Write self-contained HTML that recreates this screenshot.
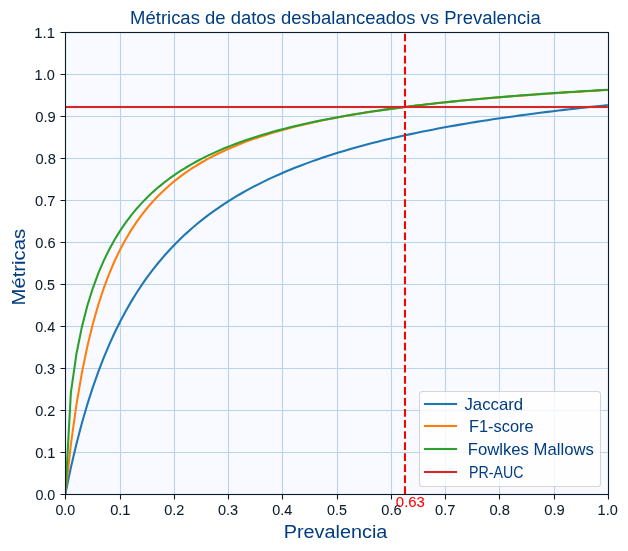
<!DOCTYPE html><html><head><meta charset="utf-8"><title>Métricas de datos desbalanceados vs Prevalencia</title><style>html,body{margin:0;padding:0;background:#fff;width:628px;height:551px;overflow:hidden}svg{display:block;will-change:transform}text{font-family:"Liberation Sans",sans-serif}</style></head><body>
<svg width="628" height="551" viewBox="0 0 628 551">
<defs><clipPath id="ax"><rect x="65.4028" y="32.3333" width="542.5000" height="462.0000"/></clipPath></defs>
<rect x="0" y="0" width="628" height="551" fill="#ffffff"/>
<rect x="65.4028" y="32.3333" width="542.5000" height="462.0000" fill="#f8faff"/>
<path d="M65.500 32.333V494.333M120.500 32.333V494.333M174.500 32.333V494.333M228.500 32.333V494.333M282.500 32.333V494.333M337.500 32.333V494.333M391.500 32.333V494.333M445.500 32.333V494.333M499.500 32.333V494.333M554.500 32.333V494.333M608.500 32.333V494.333M65.403 32.500H607.903M65.403 74.500H607.903M65.403 116.500H607.903M65.403 158.500H607.903M65.403 200.500H607.903M65.403 242.500H607.903M65.403 284.500H607.903M65.403 326.500H607.903M65.403 368.500H607.903M65.403 410.500H607.903M65.403 452.500H607.903M65.403 494.500H607.903" stroke="#b8d3f0" stroke-width="1.111" fill="none" clip-path="url(#ax)"/>
<g clip-path="url(#ax)" fill="none" stroke-width="2.0833" stroke-linejoin="round">
<polyline points="65.40,493.72 70.88,467.52 76.36,444.18 81.84,423.27 87.32,404.42 92.80,387.34 98.28,371.80 103.76,357.59 109.24,344.56 114.72,332.55 120.20,321.46 125.68,311.19 131.16,301.64 136.64,292.74 142.12,284.43 147.60,276.66 153.08,269.36 158.56,262.50 164.04,256.05 169.52,249.96 175.00,244.20 180.48,238.76 185.96,233.60 191.44,228.70 196.92,224.04 202.40,219.61 207.88,215.39 213.36,211.37 218.84,207.53 224.32,203.85 229.80,200.34 235.28,196.97 240.76,193.75 246.24,190.65 251.72,187.68 257.20,184.82 262.68,182.08 268.16,179.43 273.64,176.89 279.11,174.43 284.59,172.07 290.07,169.78 295.55,167.58 301.03,165.45 306.51,163.38 311.99,161.39 317.47,159.46 322.95,157.59 328.43,155.78 333.91,154.03 339.39,152.33 344.87,150.68 350.35,149.07 355.83,147.52 361.31,146.00 366.79,144.53 372.27,143.11 377.75,141.72 383.23,140.36 388.71,139.05 394.19,137.76 399.67,136.52 405.15,135.30 410.63,134.11 416.11,132.96 421.59,131.83 427.07,130.73 432.55,129.65 438.03,128.60 443.51,127.58 448.99,126.58 454.47,125.60 459.95,124.64 465.43,123.71 470.91,122.80 476.39,121.90 481.87,121.03 487.35,120.17 492.83,119.34 498.31,118.52 503.79,117.72 509.27,116.93 514.75,116.16 520.23,115.40 525.71,114.67 531.19,113.94 536.67,113.23 542.15,112.53 547.63,111.85 553.10,111.18 558.58,110.52 564.06,109.88 569.54,109.24 575.02,108.62 580.50,108.01 585.98,107.41 591.46,106.82 596.94,106.24 602.42,105.67 607.90,105.11" stroke="#1f77b4"/>
<polyline points="65.40,493.72 70.88,444.39 76.36,405.10 81.84,373.06 87.32,346.43 92.80,323.96 98.28,304.74 103.76,288.11 109.24,273.58 114.72,260.78 120.20,249.41 125.68,239.25 131.16,230.11 136.64,221.86 142.12,214.35 147.60,207.51 153.08,201.24 158.56,195.48 164.04,190.16 169.52,185.23 175.00,180.67 180.48,176.42 185.96,172.45 191.44,168.74 196.92,165.26 202.40,162.00 207.88,158.93 213.36,156.03 218.84,153.30 224.32,150.71 229.80,148.27 235.28,145.94 240.76,143.74 246.24,141.64 251.72,139.64 257.20,137.74 262.68,135.92 268.16,134.19 273.64,132.53 279.11,130.94 284.59,129.41 290.07,127.95 295.55,126.55 301.03,125.21 306.51,123.91 311.99,122.66 317.47,121.47 322.95,120.31 328.43,119.20 333.91,118.12 339.39,117.08 344.87,116.08 350.35,115.11 355.83,114.17 361.31,113.27 366.79,112.39 372.27,111.54 377.75,110.71 383.23,109.91 388.71,109.14 394.19,108.39 399.67,107.66 405.15,106.95 410.63,106.26 416.11,105.59 421.59,104.93 427.07,104.30 432.55,103.68 438.03,103.08 443.51,102.50 448.99,101.92 454.47,101.37 459.95,100.83 465.43,100.30 470.91,99.78 476.39,99.28 481.87,98.79 487.35,98.31 492.83,97.84 498.31,97.38 503.79,96.93 509.27,96.50 514.75,96.07 520.23,95.65 525.71,95.24 531.19,94.84 536.67,94.45 542.15,94.07 547.63,93.69 553.10,93.32 558.58,92.96 564.06,92.61 569.54,92.27 575.02,91.93 580.50,91.59 585.98,91.27 591.46,90.95 596.94,90.64 602.42,90.33 607.90,90.03" stroke="#ff7f0e"/>
<polyline points="65.40,493.72 70.88,392.55 76.36,354.31 81.84,327.12 87.32,305.81 92.80,288.29 98.28,273.45 103.76,260.65 109.24,249.43 114.72,239.49 120.20,230.60 125.68,222.58 131.16,215.32 136.64,208.69 142.12,202.62 147.60,197.02 153.08,191.86 158.56,187.07 164.04,182.62 169.52,178.46 175.00,174.58 180.48,170.94 185.96,167.51 191.44,164.29 196.92,161.26 202.40,158.39 207.88,155.67 213.36,153.10 218.84,150.65 224.32,148.33 229.80,146.12 235.28,144.01 240.76,142.00 246.24,140.08 251.72,138.24 257.20,136.48 262.68,134.79 268.16,133.18 273.64,131.62 279.11,130.13 284.59,128.70 290.07,127.32 295.55,125.99 301.03,124.71 306.51,123.48 311.99,122.29 317.47,121.14 322.95,120.02 328.43,118.95 333.91,117.91 339.39,116.90 344.87,115.93 350.35,114.99 355.83,114.07 361.31,113.18 366.79,112.32 372.27,111.49 377.75,110.67 383.23,109.88 388.71,109.12 394.19,108.37 399.67,107.65 405.15,106.94 410.63,106.25 416.11,105.59 421.59,104.93 427.07,104.30 432.55,103.68 438.03,103.08 443.51,102.49 448.99,101.91 454.47,101.35 459.95,100.80 465.43,100.27 470.91,99.75 476.39,99.23 481.87,98.74 487.35,98.25 492.83,97.77 498.31,97.30 503.79,96.85 509.27,96.40 514.75,95.96 520.23,95.53 525.71,95.11 531.19,94.70 536.67,94.30 542.15,93.91 547.63,93.52 553.10,93.14 558.58,92.77 564.06,92.40 569.54,92.05 575.02,91.70 580.50,91.35 585.98,91.01 591.46,90.68 596.94,90.36 602.42,90.04 607.90,89.72" stroke="#2ca02c"/>
<rect x="65.403" y="105.9583" width="542.500" height="2.0833" fill="#d62728" stroke="none"/>
<line x1="405" y1="494.0722" x2="405" y2="31.7222" stroke="#ff0000" stroke-width="2.0833" stroke-dasharray="7.7083 3.3333"/>
</g>
<rect x="65.5" y="32.5" width="543" height="462" fill="none" stroke="#0d1b2a" stroke-width="1.111"/>
<path d="M60.5 32.500H65.5M60.5 74.500H65.5M60.5 116.500H65.5M60.5 158.500H65.5M60.5 200.500H65.5M60.5 242.500H65.5M60.5 284.500H65.5M60.5 326.500H65.5M60.5 368.500H65.5M60.5 410.500H65.5M60.5 452.500H65.5M60.5 494.500H65.5M65.500 494.5V499.5M120.500 494.5V499.5M174.500 494.5V499.5M228.500 494.5V499.5M282.500 494.5V499.5M337.500 494.5V499.5M391.500 494.5V499.5M445.500 494.5V499.5M499.500 494.5V499.5M554.500 494.5V499.5M608.500 494.5V499.5" stroke="#0d1b2a" stroke-width="1.111" fill="none"/>
<rect x="419.50" y="391.50" width="181" height="95" rx="3.06" ry="3.06" fill="#ffffff" fill-opacity="0.8" stroke="#cccccc" stroke-opacity="0.8" stroke-width="1.111"/>
<rect x="423.94" y="402.9583" width="33.12" height="2.0833" fill="#1f77b4"/>
<rect x="423.94" y="424.9583" width="33.12" height="2.0833" fill="#ff7f0e"/>
<rect x="423.94" y="447.9583" width="33.12" height="2.0833" fill="#2ca02c"/>
<rect x="423.94" y="470.9583" width="33.12" height="2.0833" fill="#d62728"/>
<text id="x0.0" x="55.38" y="515.00" font-size="14.722" fill="#0d1b2a" stroke="#0d1b2a" stroke-width="0.05" textLength="19.86" lengthAdjust="spacingAndGlyphs">0.0</text>
<text id="x0.1" x="110.14" y="515.00" font-size="14.722" fill="#0d1b2a" stroke="#0d1b2a" stroke-width="0.05" textLength="20.41" lengthAdjust="spacingAndGlyphs">0.1</text>
<text id="x0.2" x="164.13" y="515.00" font-size="14.722" fill="#0d1b2a" stroke="#0d1b2a" stroke-width="0.05" textLength="20.14" lengthAdjust="spacingAndGlyphs">0.2</text>
<text id="x0.3" x="217.93" y="515.00" font-size="14.722" fill="#0d1b2a" stroke="#0d1b2a" stroke-width="0.05" textLength="20.25" lengthAdjust="spacingAndGlyphs">0.3</text>
<text id="x0.4" x="272.20" y="515.00" font-size="14.722" fill="#0d1b2a" stroke="#0d1b2a" stroke-width="0.05" textLength="20.00" lengthAdjust="spacingAndGlyphs">0.4</text>
<text id="x0.5" x="326.96" y="515.00" font-size="14.722" fill="#0d1b2a" stroke="#0d1b2a" stroke-width="0.05" textLength="19.93" lengthAdjust="spacingAndGlyphs">0.5</text>
<text id="x0.6" x="381.31" y="515.00" font-size="14.722" fill="#0d1b2a" stroke="#0d1b2a" stroke-width="0.05" textLength="20.32" lengthAdjust="spacingAndGlyphs">0.6</text>
<text id="x0.7" x="435.11" y="515.00" font-size="14.722" fill="#0d1b2a" stroke="#0d1b2a" stroke-width="0.05" textLength="20.44" lengthAdjust="spacingAndGlyphs">0.7</text>
<text id="x0.8" x="489.38" y="515.00" font-size="14.722" fill="#0d1b2a" stroke="#0d1b2a" stroke-width="0.05" textLength="20.44" lengthAdjust="spacingAndGlyphs">0.8</text>
<text id="x0.9" x="544.29" y="515.00" font-size="14.722" fill="#0d1b2a" stroke="#0d1b2a" stroke-width="0.05" textLength="20.56" lengthAdjust="spacingAndGlyphs">0.9</text>
<text id="x1.0" x="597.62" y="515.00" font-size="14.722" fill="#0d1b2a" stroke="#0d1b2a" stroke-width="0.05" textLength="20.18" lengthAdjust="spacingAndGlyphs">1.0</text>
<text id="y0.0" x="35.38" y="500.00" font-size="14.722" fill="#0d1b2a" stroke="#0d1b2a" stroke-width="0.05" textLength="19.86" lengthAdjust="spacingAndGlyphs">0.0</text>
<text id="y0.1" x="35.14" y="458.00" font-size="14.722" fill="#0d1b2a" stroke="#0d1b2a" stroke-width="0.05" textLength="20.41" lengthAdjust="spacingAndGlyphs">0.1</text>
<text id="y0.2" x="35.13" y="416.00" font-size="14.722" fill="#0d1b2a" stroke="#0d1b2a" stroke-width="0.05" textLength="20.14" lengthAdjust="spacingAndGlyphs">0.2</text>
<text id="y0.3" x="34.93" y="374.00" font-size="14.722" fill="#0d1b2a" stroke="#0d1b2a" stroke-width="0.05" textLength="20.25" lengthAdjust="spacingAndGlyphs">0.3</text>
<text id="y0.4" x="35.20" y="332.00" font-size="14.722" fill="#0d1b2a" stroke="#0d1b2a" stroke-width="0.05" textLength="20.00" lengthAdjust="spacingAndGlyphs">0.4</text>
<text id="y0.5" x="34.96" y="290.00" font-size="14.722" fill="#0d1b2a" stroke="#0d1b2a" stroke-width="0.05" textLength="19.93" lengthAdjust="spacingAndGlyphs">0.5</text>
<text id="y0.6" x="35.31" y="248.00" font-size="14.722" fill="#0d1b2a" stroke="#0d1b2a" stroke-width="0.05" textLength="20.32" lengthAdjust="spacingAndGlyphs">0.6</text>
<text id="y0.7" x="35.11" y="206.00" font-size="14.722" fill="#0d1b2a" stroke="#0d1b2a" stroke-width="0.05" textLength="20.44" lengthAdjust="spacingAndGlyphs">0.7</text>
<text id="y0.8" x="35.38" y="164.00" font-size="14.722" fill="#0d1b2a" stroke="#0d1b2a" stroke-width="0.05" textLength="20.44" lengthAdjust="spacingAndGlyphs">0.8</text>
<text id="y0.9" x="35.29" y="122.00" font-size="14.722" fill="#0d1b2a" stroke="#0d1b2a" stroke-width="0.05" textLength="20.56" lengthAdjust="spacingAndGlyphs">0.9</text>
<text id="y1.0" x="34.62" y="80.00" font-size="14.722" fill="#0d1b2a" stroke="#0d1b2a" stroke-width="0.05" textLength="20.18" lengthAdjust="spacingAndGlyphs">1.0</text>
<text id="y1.1" x="34.36" y="38.00" font-size="14.722" fill="#0d1b2a" stroke="#0d1b2a" stroke-width="0.05" textLength="20.50" lengthAdjust="spacingAndGlyphs">1.1</text>
<text id="title" x="130.10" y="24.00" font-size="17.667" fill="#003d80" textLength="410.62" lengthAdjust="spacingAndGlyphs">Métricas de datos desbalanceados vs Prevalencia</text>
<text id="xlabel" x="283.68" y="538.00" font-size="19.139" fill="#003d80" textLength="103.71" lengthAdjust="spacingAndGlyphs">Prevalencia</text>
<text id="ylabel" x="25.00" y="305.50" font-size="19.139" fill="#003d80" textLength="76.60" lengthAdjust="spacingAndGlyphs" transform="rotate(-90 25.00 305.50)">Métricas</text>
<text id="leg_Jaccard" x="464.41" y="410.00" font-size="16.195" fill="#003d80" textLength="58.76" lengthAdjust="spacingAndGlyphs">Jaccard</text>
<text id="leg_F1-score" x="469.04" y="432.00" font-size="16.195" fill="#003d80" textLength="64.50" lengthAdjust="spacingAndGlyphs">F1-score</text>
<text id="leg_FowlkesMallows" x="467.71" y="455.00" font-size="16.195" fill="#003d80" textLength="126.19" lengthAdjust="spacingAndGlyphs">Fowlkes Mallows</text>
<text id="leg_PR-AUC" x="469.06" y="478.00" font-size="16.195" fill="#003d80" textLength="54.55" lengthAdjust="spacingAndGlyphs">PR-AUC</text>
<text id="t063" x="395.89" y="507.00" font-size="14.722" fill="#ff0000" stroke="#ff0000" stroke-width="0.05" textLength="29.05" lengthAdjust="spacingAndGlyphs">0.63</text>
</svg></body></html>
